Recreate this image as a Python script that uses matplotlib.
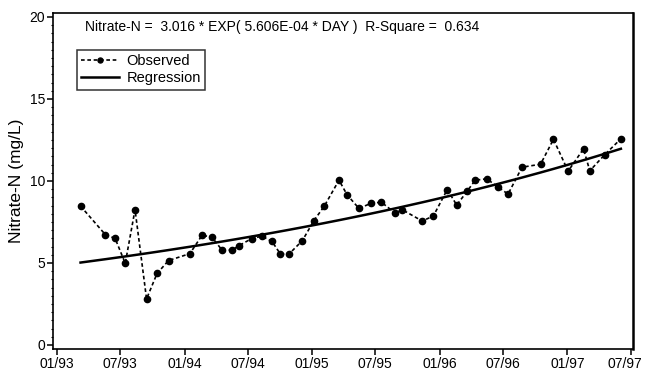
import numpy as np
import pandas as pd
import matplotlib
matplotlib.use("Agg")
import matplotlib.pyplot as plt
import matplotlib.dates as mdates
import matplotlib.transforms as mtransforms
from matplotlib.ticker import MultipleLocator

plt.rcParams["font.family"] = ["Liberation Sans", "DejaVu Sans"]

dates = ["1993-03-09", "1993-05-19", "1993-06-16", "1993-07-15", "1993-08-12",
         "1993-09-14", "1993-10-14", "1993-11-16", "1994-01-16", "1994-02-20",
         "1994-03-20", "1994-04-18", "1994-05-17", "1994-06-06", "1994-07-12",
         "1994-08-10", "1994-09-08", "1994-10-02", "1994-10-27", "1994-12-04",
         "1995-01-06", "1995-02-05", "1995-03-19", "1995-04-11", "1995-05-15",
         "1995-06-18", "1995-07-18", "1995-08-27", "1995-09-16", "1995-11-12",
         "1995-12-14", "1996-01-23", "1996-02-19", "1996-03-20", "1996-04-12",
         "1996-05-15", "1996-06-15", "1996-07-15", "1996-08-24", "1996-10-16",
         "1996-11-22", "1997-01-03", "1997-02-16", "1997-03-06", "1997-04-18",
         "1997-06-03"]
nitrate = [8.47, 6.73, 6.50, 4.98, 8.25,
           2.81, 4.36, 5.15, 5.57, 6.69,
           6.58, 5.79, 5.79, 6.06, 6.49,
           6.63, 6.32, 5.55, 5.55, 6.36,
           7.58, 8.47, 10.05, 9.16, 8.33,
           8.63, 8.71, 8.04, 8.25, 7.56,
           7.86, 9.48, 8.53, 9.38, 10.05,
           10.13, 9.65, 9.20, 10.84, 11.02,
           12.54, 10.60, 11.96, 10.62, 11.61,
           12.57]

# fitted model from the figure text
coef_a = 3.016
coef_b = 5.606e-04
day_origin = "1990-09-10"
r_square = 0.634

t = pd.to_datetime(dates)
day = (t - pd.Timestamp(day_origin)).days.values
fitted = coef_a * np.exp(coef_b * day)

fig = plt.figure(figsize=(6.46, 3.72), dpi=100)
ax = fig.add_axes([0.0825, 0.062, 0.897, 0.903])

ax.plot(t, nitrate, color="black", linestyle=(0, (2.2, 1.6)), linewidth=1.2,
        marker="o", markersize=4.5, label="Observed")
ax.plot(t, fitted, color="black", linewidth=1.8, label="Regression")

ax.set_xlim(pd.Timestamp("1992-12-21"), pd.Timestamp("1997-07-07"))
ax.set_ylim(-0.24, 20.24)
ax.xaxis.set_major_locator(mdates.MonthLocator(bymonth=[1, 7]))
ax.xaxis.set_major_formatter(mdates.DateFormatter("%m/%y"))
ax.yaxis.set_major_locator(MultipleLocator(5))
ax.yaxis.set_minor_locator(MultipleLocator(0.5))
ax.tick_params(axis="both", which="major", direction="out", length=4, width=1.1,
               labelsize=10, colors="black")
ax.tick_params(axis="x", which="major", pad=1.5)
ax.tick_params(axis="y", which="major", pad=2)
ax.tick_params(axis="y", which="minor", direction="out", length=1.5, width=0.8)
for s in ax.spines.values():
    s.set_linewidth(1.2)
    s.set_color("black")
ax.spines["right"].set_linewidth(1.8)

ax.set_ylabel("Nitrate-N (mg/L)", fontsize=12.5, labelpad=4)

eq = ("Nitrate-N =  %.3f * EXP( %.3E * DAY )  R-Square =  %.3f"
      % (coef_a, coef_b, r_square))
ax.text(0.054, 0.957, eq, transform=ax.transAxes, fontsize=10, va="center",
        ha="left")

leg = ax.legend(loc="upper left", bbox_to_anchor=(0.028, 0.912), fontsize=10.5,
                frameon=True, fancybox=False, edgecolor="black",
                handlelength=2.6, handletextpad=0.5, borderpad=0.3,
                labelspacing=0.2, markerscale=0.8)
leg.get_frame().set_linewidth(1.1)

# last date label sits right at the figure edge, nudge it in a bit
fig.canvas.draw()
last = ax.get_xticklabels()[-1]
last.set_transform(last.get_transform() +
                   mtransforms.ScaledTranslation(-4 / 72, 0, fig.dpi_scale_trans))

fig.savefig("out.png", dpi=100)
